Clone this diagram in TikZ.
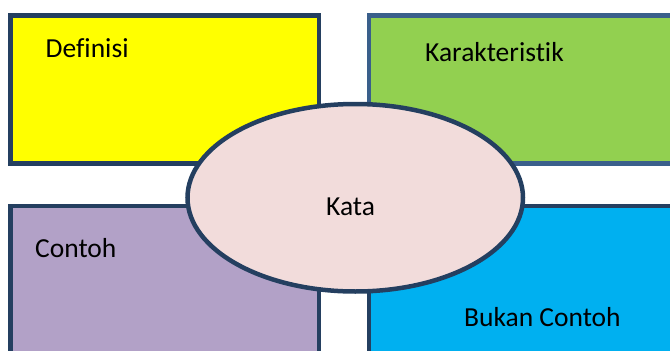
\documentclass[tikz,border=0pt]{standalone}
\usepackage{fontspec}
\setmainfont{Carlito}[Ligatures=NoCommon]
\usepackage[]{xcolor}
\usepackage{tikz}
\usetikzlibrary{shapes.geometric, positioning}
\definecolor{navyline}{RGB}{36,63,96}
\definecolor{steelline}{RGB}{58,95,139}
\definecolor{yellowfill}{RGB}{255,255,0}
\definecolor{greenfill}{RGB}{146,208,80}
\definecolor{lilacfill}{RGB}{178,161,199}
\definecolor{cyanfill}{RGB}{0,176,240}
\definecolor{rosefill}{RGB}{242,220,219}
\tikzset{
		concept box/.style={draw=navyline, line width=4.5pt, rectangle, anchor=north west, outer sep=0pt, inner sep=0pt},
		word ellipse/.style={draw=navyline, line width=4.5pt, ellipse, fill=rosefill, inner sep=0pt, outer sep=0pt},
		box text/.style={anchor=base west, inner sep=0pt, font=\fontsize{27.5}{32}\selectfont}
	}
\begin{document}
\begin{tikzpicture}[x=1pt, y=-1pt]
				\clip (0,0) rectangle (670,351);
				\node[concept box, fill=yellowfill, minimum width=308.5pt, minimum height=147.8pt] (def) at (10.3,15.5) {};
				\node[concept box, fill=greenfill, draw=steelline, minimum width=330pt, minimum height=147.8pt] (kar) at (368.8,15.5) {};
				\node[concept box, fill=lilacfill, minimum width=308.5pt, minimum height=170pt] (con) at (10.3,205.8) {};
				\node[concept box, fill=cyanfill, minimum width=330pt, minimum height=170pt] (bkn) at (368.8,205.8) {};
				\node[word ellipse, minimum width=335.5pt, minimum height=187.5pt] (kata) at (355.25,197.75) {};
				\node[box text] (def text) at (45.5,57) {Definisi};
				\node[box text] (kar text) at (425,61.7) {Karakteristik};
				\node[box text] (con text) at (35,257) {Contoh};
				\node[box text] (bkn text) at (464,326.5) {Bukan Contoh};
				\node[box text] (kata text) at (326,215) {Kata};
			\end{tikzpicture}
\end{document}
